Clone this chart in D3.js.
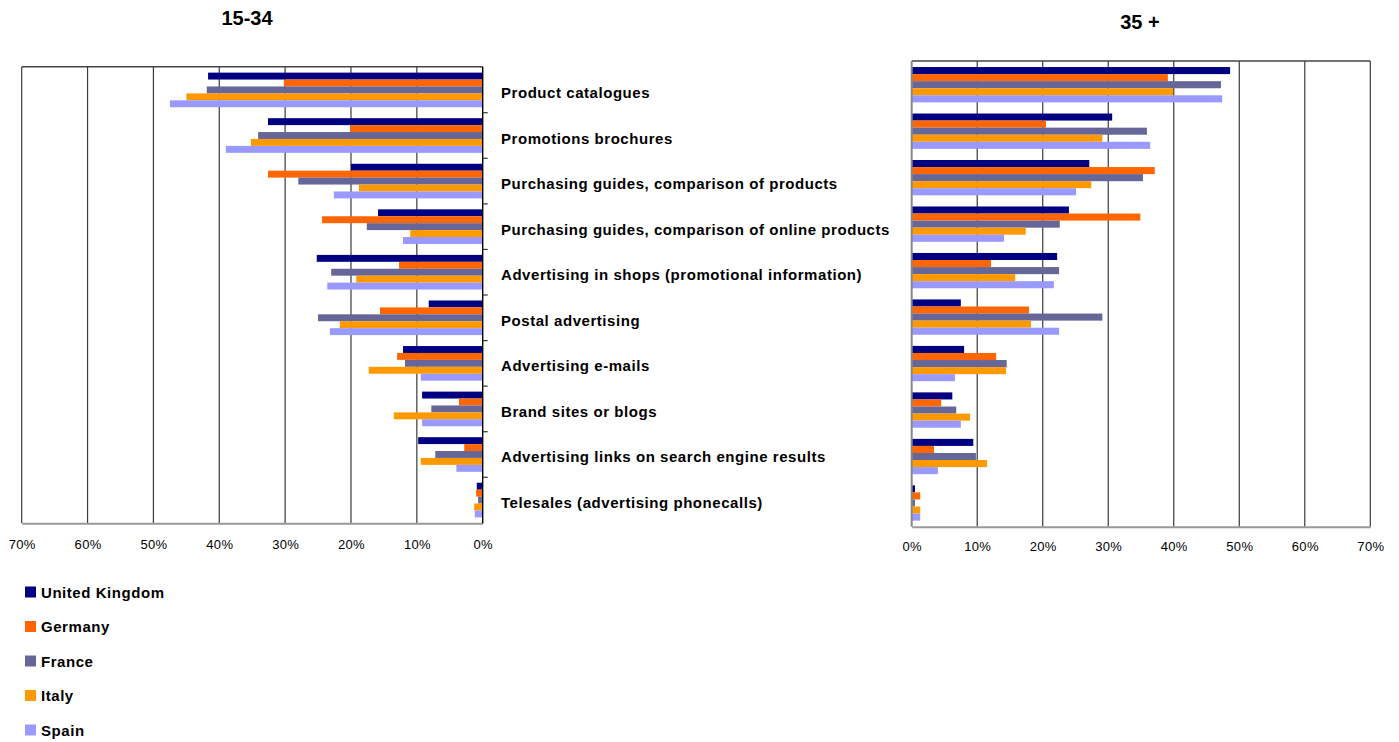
<!DOCTYPE html>
<html>
<head>
<meta charset="utf-8">
<script src="https://cdn.jsdelivr.net/npm/d3@7"></script>
<style>
  html, body { margin: 0; padding: 0; background: #fff; }
  svg { display: block; font-family: "Liberation Sans", Arial, sans-serif; }
</style>
</head>
<body>
<svg id="chart" width="1399" height="742"></svg>
<script>
// Media used as information sources, by age group and country (share of respondents)
const categories = [
  "Product catalogues",
  "Promotions brochures",
  "Purchasing guides, comparison of products",
  "Purchasing guides, comparison of online products",
  "Advertising in shops (promotional information)",
  "Postal advertising",
  "Advertising e-mails",
  "Brand sites or blogs",
  "Advertising links on search engine results",
  "Telesales (advertising phonecalls)"
];
const series = ["United Kingdom", "Germany", "France", "Italy", "Spain"];
const colors = ["#000080", "#FF6600", "#666699", "#FF9900", "#9999FF"];

// Age 15-34, one array per country, in category order (%)
const young_UK = [41.7, 32.6, 20.0, 15.9, 25.2, 8.2, 12.1, 9.2, 9.8, 0.9];
const young_DE = [30.2, 20.1, 32.6, 24.4, 12.7, 15.6, 13.0, 3.6, 2.8, 1.0];
const young_FR = [41.9, 34.1, 28.0, 17.6, 23.0, 25.0, 11.8, 7.8, 7.2, 0.7];
const young_IT = [45.0, 35.2, 18.8, 11.0, 19.2, 21.7, 17.3, 13.5, 9.4, 1.3];
const young_ES = [47.5, 39.0, 22.6, 12.1, 23.6, 23.2, 9.4, 9.2, 4.0, 1.2];

// Age 35+, one array per country, in category order (%)
const older_UK = [48.6, 30.6, 27.1, 24.0, 22.2, 7.5, 8.0, 6.2, 9.4, 0.5];
const older_DE = [39.1, 20.5, 37.1, 34.9, 12.1, 17.9, 12.9, 4.5, 3.4, 1.3];
const older_FR = [47.2, 35.9, 35.3, 22.6, 22.5, 29.1, 14.5, 6.8, 9.8, 0.5];
const older_IT = [39.9, 29.1, 27.4, 17.4, 15.8, 18.2, 14.4, 8.9, 11.5, 1.3];
const older_ES = [47.4, 36.4, 25.1, 14.1, 21.7, 22.5, 6.6, 7.5, 4.0, 1.3];

const tickValues = [0, 10, 20, 30, 40, 50, 60, 70];
const xMax = 70;

const svg = d3.select("#chart");

function buildRows(arrays) {
  return categories.map((c, i) => ({
    category: c,
    values: series.map((s, j) => ({ series: s, value: arrays[j][i] }))
  }));
}

function drawPanel(opt) {
  const g = svg.append("g");
  const x = d3.scaleLinear().domain([0, xMax]).range(opt.xRange);
  const y = d3.scaleBand().domain(categories).range(opt.yRange)
    .paddingInner(0.24).paddingOuter(0.13);
  const yInner = d3.scaleBand().domain(series).range([0, y.bandwidth()]);
  const [y0, y1] = opt.yRange;
  const x0 = x(0);

  // vertical grid lines
  g.append("g").selectAll("line").data(tickValues.filter(v => v > 0)).join("line")
    .attr("x1", d => x(d)).attr("x2", d => x(d))
    .attr("y1", y0).attr("y2", y1)
    .attr("stroke", "#3a3a3a").attr("stroke-width", 1.2);

  // top border
  g.append("line")
    .attr("x1", x(0)).attr("x2", x(xMax)).attr("y1", y0).attr("y2", y0)
    .attr("stroke", "#444").attr("stroke-width", 1.6);

  // bars
  const rows = buildRows(opt.data);
  const grp = g.append("g").selectAll("g").data(rows).join("g")
    .attr("transform", d => `translate(0,${y(d.category)})`);
  grp.selectAll("rect").data(d => d.values).join("rect")
    .attr("x", d => Math.min(x0, x(d.value)))
    .attr("width", d => Math.abs(x(d.value) - x0))
    .attr("y", d => yInner(d.series))
    .attr("height", yInner.bandwidth())
    .attr("fill", (d, i) => colors[i]);

  // bottom axis with percent labels
  const axis = d3.axisBottom(x).tickValues(tickValues).tickSize(0)
    .tickFormat(d => d + "%");
  const ax = g.append("g").attr("transform", `translate(0,${y1})`).call(axis);
  ax.select(".domain").attr("stroke", "#999").attr("stroke-width", 2);
  ax.selectAll("text").attr("dy", 0).attr("y", opt.tickLabelDy)
    .attr("dominant-baseline", "central")
    .attr("font-size", 13).attr("letter-spacing", 0.3).attr("fill", "#000")
    .attr("font-family", "'Liberation Sans', Arial, sans-serif");

  // zero (category) axis line
  g.append("line")
    .attr("x1", x0).attr("x2", x0).attr("y1", y0).attr("y2", y1)
    .attr("stroke", opt.zeroColor).attr("stroke-width", opt.zeroWidth);

  if (opt.ticksRight) {
    const bounds = categories.slice(1).map(c => y(c) - y.step() * y.paddingInner() / 2);
    g.append("g").selectAll("line").data(bounds).join("line")
      .attr("x1", x0).attr("x2", x0 + 5).attr("y1", d => d).attr("y2", d => d)
      .attr("stroke", "#333").attr("stroke-width", 1.2);
  }

  // panel title
  svg.append("text")
    .attr("x", opt.titleX).attr("y", opt.titleY)
    .attr("text-anchor", "middle").attr("dominant-baseline", "central")
    .attr("font-size", 20).attr("font-weight", "bold")
    .text(opt.title);

  return y;
}

const yLeft = drawPanel({
  data: [young_UK, young_DE, young_FR, young_IT, young_ES],
  xRange: [482.7, 21.7], yRange: [66.7, 523.3],
  tickLabelDy: 21, zeroColor: "#000", zeroWidth: 1.4, ticksRight: true,
  title: "15-34", titleX: 247, titleY: 18
});

drawPanel({
  data: [older_UK, older_DE, older_FR, older_IT, older_ES],
  xRange: [911.7, 1370.3], yRange: [61, 526.7],
  tickLabelDy: 20, zeroColor: "#888", zeroWidth: 2, ticksRight: false,
  title: "35 +", titleX: 1140, titleY: 22
});

// category labels between the panels
svg.append("g").selectAll("text").data(categories).join("text")
  .attr("x", 501)
  .attr("y", d => yLeft(d) + yLeft.bandwidth() / 2 + 2.5)
  .attr("dominant-baseline", "central")
  .attr("font-size", 15).attr("font-weight", "bold").attr("letter-spacing", 0.55)
  .text(d => d);

// legend
const legend = svg.append("g").selectAll("g").data(series).join("g")
  .attr("transform", (d, i) => `translate(25,${592 + i * 34.5})`);
legend.append("rect")
  .attr("x", 0).attr("y", -5.5).attr("width", 11).attr("height", 11)
  .attr("fill", (d, i) => colors[i]);
legend.append("text")
  .attr("x", 16).attr("y", 0).attr("dominant-baseline", "central")
  .attr("font-size", 15).attr("font-weight", "bold").attr("letter-spacing", 0.55)
  .text(d => d);
</script>
</body>
</html>
